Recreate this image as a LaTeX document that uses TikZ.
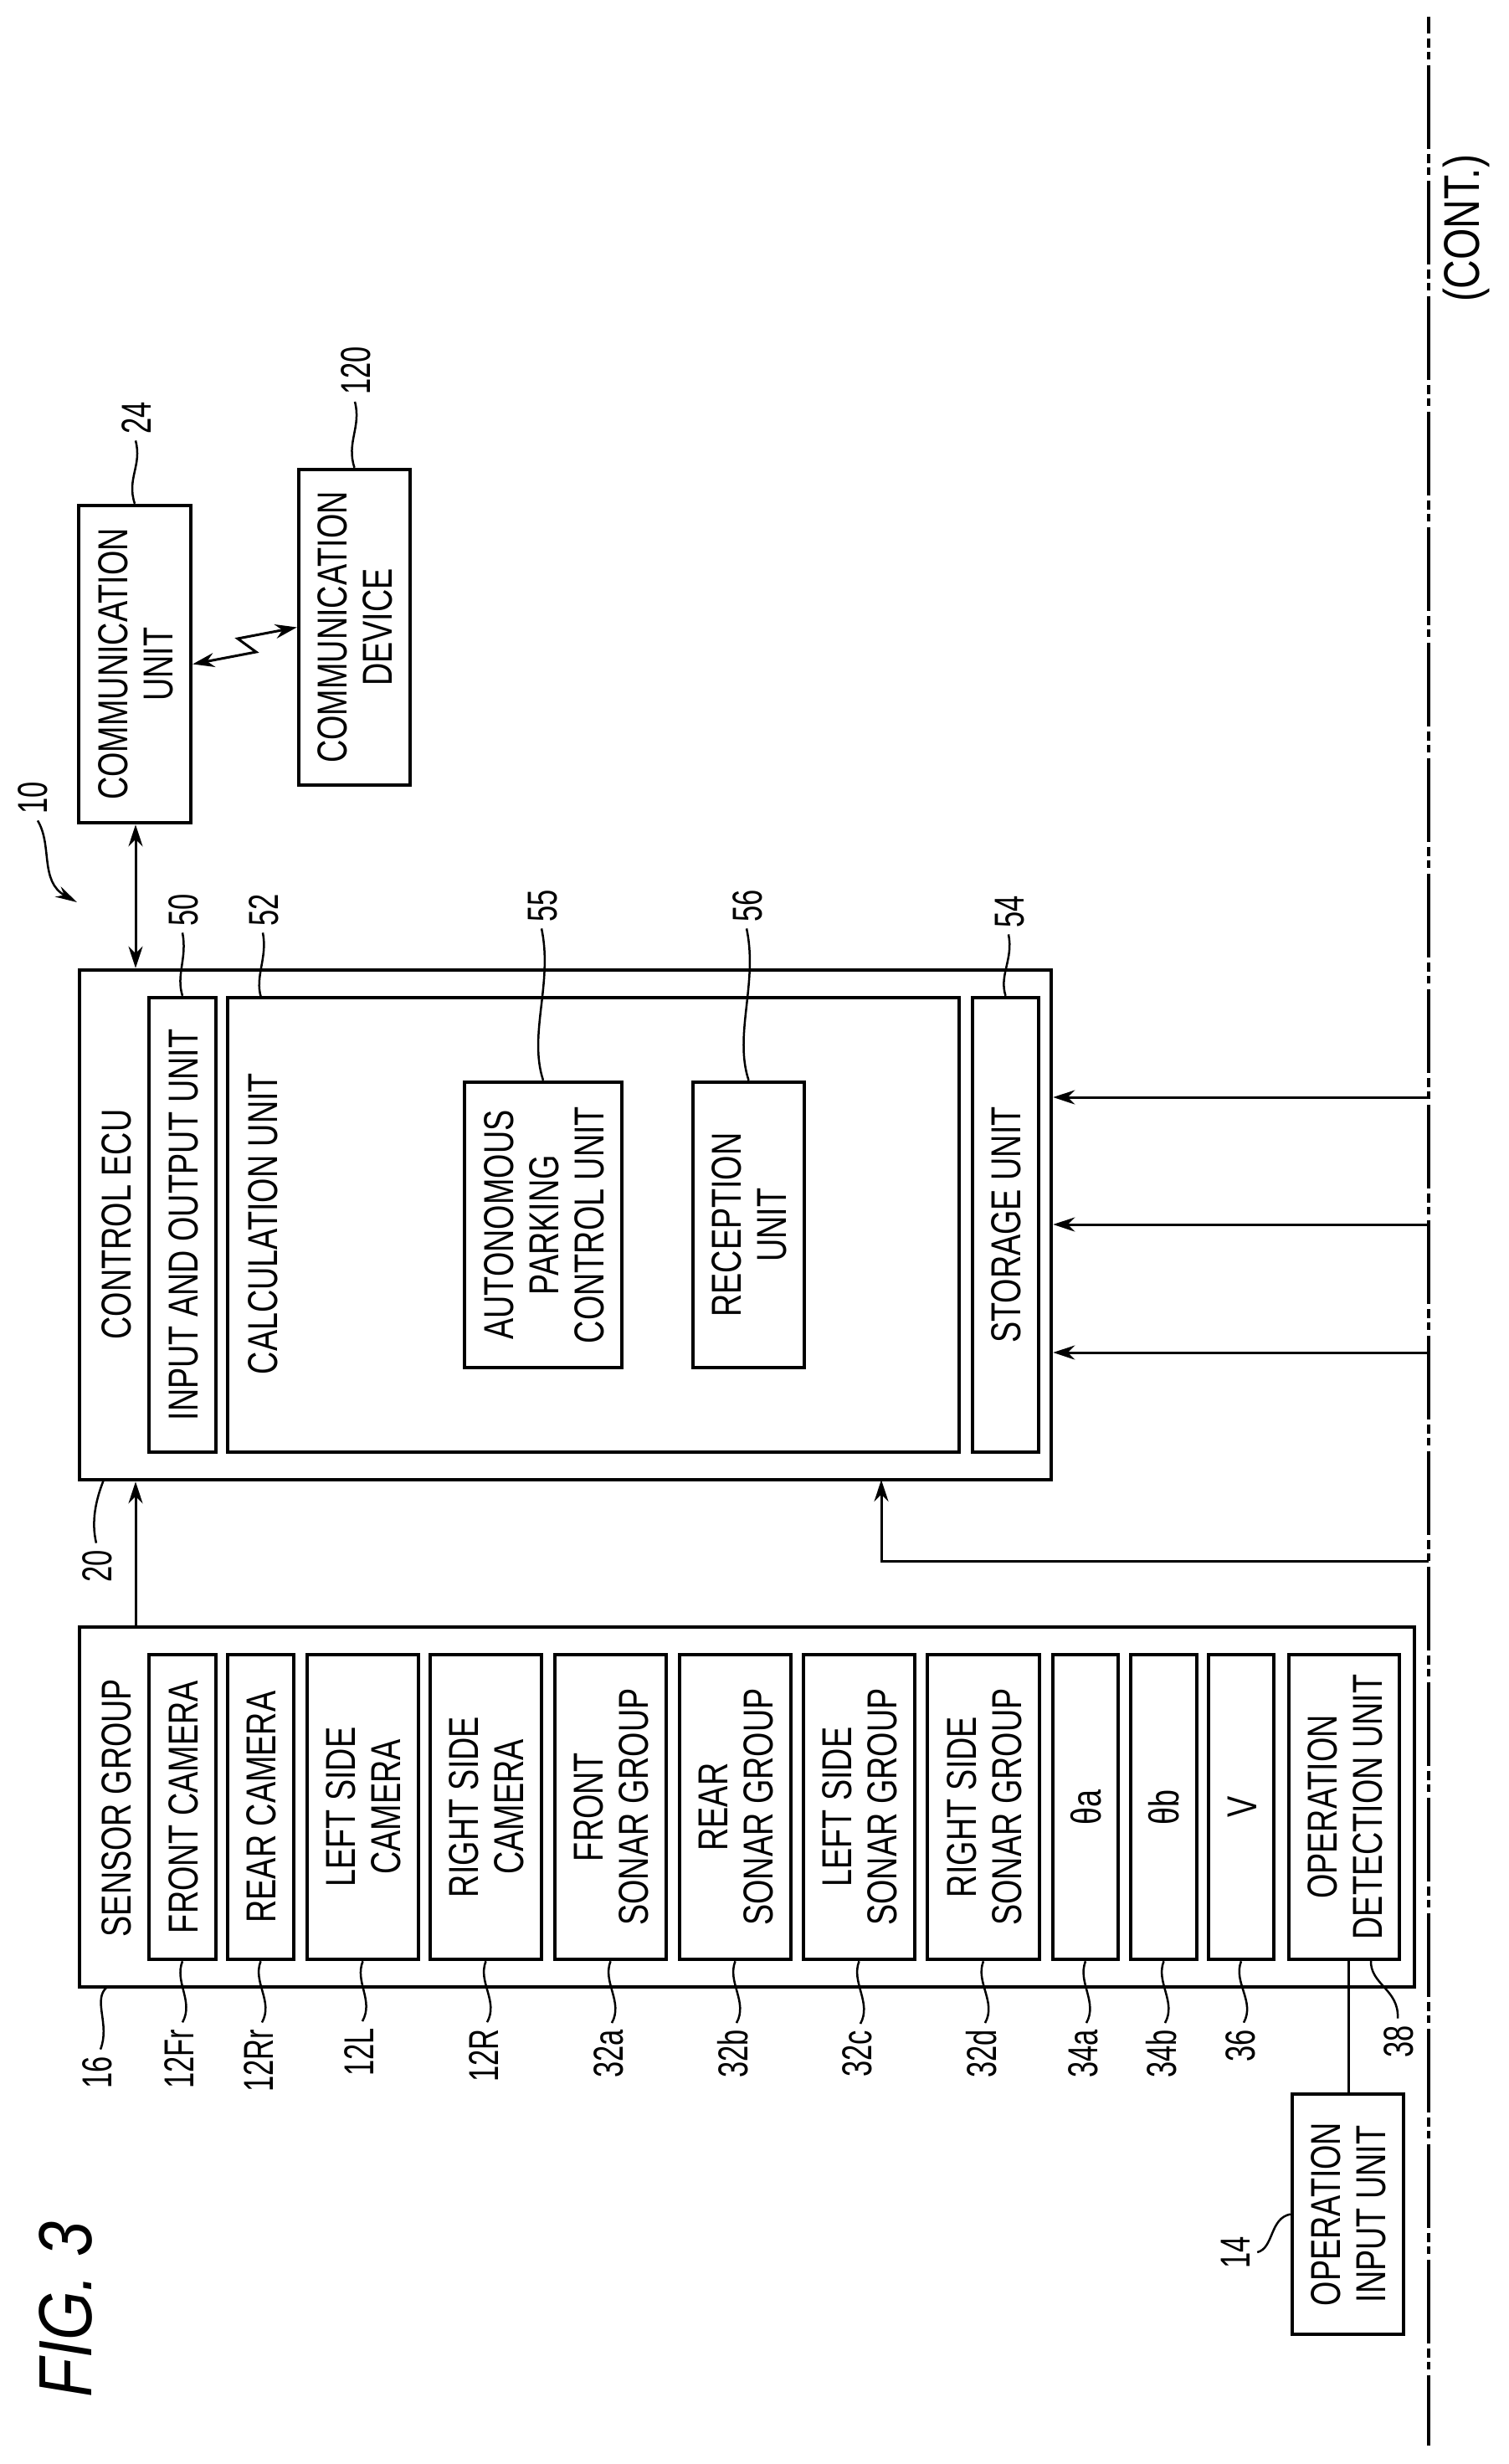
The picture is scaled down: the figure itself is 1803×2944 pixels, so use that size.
\documentclass[tikz,border=0pt]{standalone}
\usepackage{fontspec}
\setmainfont{Liberation Sans}
\usetikzlibrary{arrows.meta,calc}
\newcommand\rt[2][.755]{\rotatebox{90}{\raisebox{-7.2pt}[\height][\depth]{\scalebox{#1}[1]{\begin{tabular}{@{}c@{}}#2\end{tabular}}}}}
\newcommand\rl[1]{\rt[.69]{#1}}
\newcommand\bx[6]{\node[unitbox,minimum width={(#4-#2)*1pt},minimum height={(#5-#3)*1pt}] (#1) at ({(#2+#4)/2},{(#3+#5)/2}) {#6};}
\newcommand\lowlead[2]{\draw[leader] (#1) .. controls +(-10,25) and +(14,-25) .. ([xshift=5pt]#2.north);}
\newcommand\toplead[2]{\draw[leader] (#1) .. controls +(-8,-25) and +(6,30) .. (#2.south);}
\tikzset{
  txt/.style={font=\fontsize{50}{54}\selectfont,text=black,inner sep=0pt},
  unitbox/.style={draw=black,line width=4.5pt,fill=white,txt},
  title/.style={txt},
  reflab/.style={txt,inner ysep=8pt},
  flow/.style={draw=black,line width=3pt,-{Stealth[length=26pt,width=17pt]}},
  biflow/.style={draw=black,line width=3pt,{Stealth[length=26pt,width=17pt]}-{Stealth[length=26pt,width=17pt]}},
  plain/.style={draw=black,line width=3pt},
  leader/.style={draw=black,line width=2.5pt},
  bus/.style={draw=black,line width=4pt,dash pattern=on 100pt off 6pt on 11pt off 5pt on 9pt off 7pt,dash phase=80pt},
}
\begin{document}
\begin{tikzpicture}[x=1pt,y=-1pt]
\useasboundingbox (0,0) rectangle (1803,2944);

% ECU
\bx{ecu}{95}{1159}{1256}{1768}{}
\bx{io}{178}{1192}{258}{1735}{\rt{INPUT AND OUTPUT UNIT}}
\bx{calc}{272}{1192}{1146}{1735}{}
\bx{sto}{1162}{1192}{1241}{1735}{\rt{STORAGE UNIT}}
\bx{aut}{555}{1293}{743}{1634}{\rt{AUTONOMOUS\\PARKING\\CONTROL UNIT}}
\bx{rec}{828}{1293}{961}{1634}{\rt{RECEPTION\\UNIT}}
\node[title] (ecut) at (138,1463) {\rt{CONTROL ECU}};
\node[title] (calct) at (313,1462) {\rt{CALCULATION UNIT}};

% Communication
\bx{comm}{94}{604}{228}{983}{\rt{COMMUNICATION\\UNIT}}
\bx{dev}{357}{561}{490}{938}{\rt{COMMUNICATION\\DEVICE}}

% Sensors
\bx{sensor}{95}{1944}{1690}{2374}{}
\node[title] (sgt) at (138,2160) {\rt{SENSOR GROUP}};
\bx{sa}{178}{1977}{258}{2341}{\rt{FRONT CAMERA}}
\bx{sb}{272}{1977}{351}{2341}{\rt{REAR CAMERA}}
\bx{sc}{367}{1977}{500}{2341}{\rt{LEFT SIDE\\CAMERA}}
\bx{sd}{514}{1977}{647}{2341}{\rt{RIGHT SIDE\\CAMERA}}
\bx{se}{663}{1977}{796}{2341}{\rt{FRONT\\SONAR GROUP}}
\bx{sf}{812}{1977}{945}{2341}{\rt{REAR\\SONAR GROUP}}
\bx{sg}{960}{1977}{1093}{2341}{\rt{LEFT SIDE\\SONAR GROUP}}
\bx{sh}{1108}{1977}{1242}{2341}{\rt{RIGHT SIDE\\SONAR GROUP}}
\bx{si}{1258}{1977}{1336}{2341}{\rt{θa}}
\bx{sj}{1351}{1977}{1430}{2341}{\rt{θb}}
\bx{sk}{1444}{1977}{1522}{2341}{\rt{V}}
\bx{det}{1540}{1977}{1672}{2341}{\rt{OPERATION\\DETECTION UNIT}}
\bx{opin}{1544}{2502}{1677}{2789}{\rt{OPERATION\\INPUT UNIT}}

% Heading and continuation
\node[txt,font=\fontsize{90}{90}\selectfont\itshape] (fig) at (84,2759) {\rt[.84]{FIG. 3}};
\node[txt,font=\fontsize{60}{60}\selectfont] (cont) at (1752,273) {\rotatebox{90}{\scalebox{.8}[1]{(CONT.)}}};

% Bus line
\coordinate (bustop) at (1707,20);
\coordinate (busend) at (1707,2922);
\draw[bus] (bustop) -- (busend);

% Connectors
\coordinate (ina) at (1707,1311);
\coordinate (inb) at (1707,1463);
\coordinate (inc) at (1707,1616);
\coordinate (ind) at (1707,1865);
\coordinate (tap) at (1053,1768);
\coordinate (link) at (162,1850);
\coordinate (oplink) at (1611,2400);
\coordinate (zza) at (306,779);
\coordinate (zzb) at (284,763);
\draw[flow] (ina) -- (ina -| ecu.east);
\draw[flow] (inb) -- (inb -| ecu.east);
\draw[flow] (inc) -- (inc -| ecu.east);
\draw[flow] (ind) -| (tap);
\draw[flow] (link |- sensor.north) -- (link |- ecu.south);
\draw[biflow] (comm.south -| link) -- (link |- ecu.north);
\draw[plain] (oplink |- det.south) -- (oplink |- opin.north);
\draw[biflow] (comm.east) -- (zza) -- (zzb) -- (dev.west);

% Reference labels
\node[reflab] (l16) at (115,2476) {\rl{16}};
\node[reflab] (l12fr) at (213,2460) {\rl{12Fr}};
\node[reflab] (l12rr) at (308,2462) {\rl{12Rr}};
\node[reflab] (l12l) at (428,2452) {\rl{12L}};
\node[reflab] (l12r) at (577,2456) {\rl{12R}};
\node[reflab] (l32a) at (726,2454) {\rl{32a}};
\node[reflab] (l32b) at (875,2454) {\rl{32b}};
\node[reflab] (l32c) at (1023,2454) {\rl{32c}};
\node[reflab] (l32d) at (1172,2454) {\rl{32d}};
\node[reflab] (l34a) at (1293,2454) {\rl{34a}};
\node[reflab] (l34b) at (1387,2454) {\rl{34b}};
\node[reflab] (l36) at (1481,2444) {\rl{36}};
\node[reflab] (l38) at (1670,2439) {\rl{38}};
\node[reflab] (l14) at (1475,2691) {\rl{14}};
\node[reflab] (l20) at (115,1871) {\rl{20}};
\node[reflab] (l24) at (162,499) {\rl{24}};
\node[reflab] (l120) at (424,443) {\rl{120}};
\node[reflab] (l10) at (39,953) {\rl{10}};
\node[reflab] (l50) at (218,1087) {\rl{50}};
\node[reflab] (l52) at (314,1087) {\rl{52}};
\node[reflab] (l55) at (647,1082) {\rl{55}};
\node[reflab] (l56) at (892,1082) {\rl{56}};
\node[reflab] (l54) at (1205,1089) {\rl{54}};

% Leaders
\coordinate (c16) at (128,2374);
\coordinate (c20) at (124,1768);
\coordinate (c38) at (1638,2341);
\coordinate (c52) at (312,1192);
\coordinate (c10) at (92,1078);
\draw[leader] (c16) .. controls +(-18,15) and +(12,-30) .. ([xshift=5pt]l16.north);
\lowlead{sa.south}{l12fr}
\lowlead{sb.south}{l12rr}
\lowlead{sc.south}{l12l}
\lowlead{sd.south}{l12r}
\lowlead{se.south}{l32a}
\lowlead{sf.south}{l32b}
\lowlead{sg.south}{l32c}
\lowlead{sh.south}{l32d}
\lowlead{si.south}{l34a}
\lowlead{sj.south}{l34b}
\lowlead{sk.south}{l36}
\draw[leader] (c38) .. controls +(-2,30) and +(2,-35) .. (l38.north);
\draw[leader] (c20) .. controls +(-10,25) and +(-6,-25) .. (l20.north);
\draw[leader] (opin.west) .. controls +(-25,5) and +(20,-5) .. (l14.east);
\draw[leader] (comm.north) .. controls +(-10,-30) and +(8,30) .. (l24.south);
\draw[leader] (dev.north) .. controls +(-10,-30) and +(8,30) .. (l120.south);
\toplead{io.north}{l50}
\toplead{c52}{l52}
\draw[leader] (aut.north) .. controls +(-18,-55) and +(14,65) .. (l55.south);
\draw[leader] (rec.north) .. controls +(-18,-55) and +(14,65) .. (l56.south);
\toplead{sto.north}{l54}
\draw[leader,-{Stealth[length=26pt,width=14pt]}] ([xshift=6pt]l10.south) .. controls +(18,30) and +(-45,-25) .. (c10);
\end{tikzpicture}
\end{document}
